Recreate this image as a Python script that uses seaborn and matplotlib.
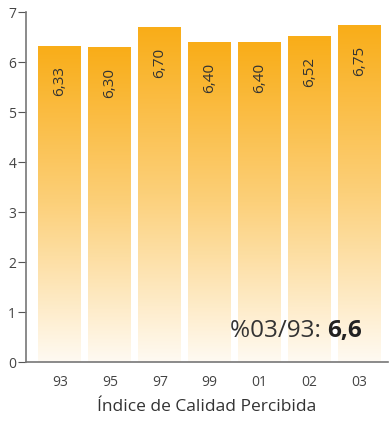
import numpy as np
import matplotlib
matplotlib.use("Agg")
import matplotlib.pyplot as plt
import seaborn as sns
import pandas as pd
from matplotlib.colors import LinearSegmentedColormap

years = ["93", "95", "97", "99", "01", "02", "03"]
values = [6.33, 6.30, 6.70, 6.40, 6.40, 6.52, 6.75]
labels = ["6,33", "6,30", "6,70", "6,40", "6,40", "6,52", "6,75"]
y_ticks = [0, 1, 2, 3, 4, 5, 6, 7]

sns.set_style("white")
plt.rcParams["font.family"] = ["Open Sans", "DejaVu Sans"]

df = pd.DataFrame({"year": years, "value": values})

fig = plt.figure(figsize=(3.9, 4.21), dpi=100)
ax = fig.add_axes([26 / 390, 59 / 421, 362 / 390, 350 / 421])

sns.barplot(data=df, x="year", y="value", ax=ax, width=0.86, color="#f9ae1a")

# degradado dentro de cada barra
cmap = LinearSegmentedColormap.from_list("g", ["#fffaf2", "#fcd07a", "#f9ad18"])
grad = np.linspace(0, 1, 256).reshape(-1, 1)
for bar in ax.patches:
    x0, w, h = bar.get_x(), bar.get_width(), bar.get_height()
    im = ax.imshow(grad, cmap=cmap, aspect="auto", origin="lower",
                   extent=[x0, x0 + w, 0, h], zorder=2)
    im.set_clip_path(bar)
    bar.set_facecolor("none")
    bar.set_edgecolor("none")

for i, (v, lab) in enumerate(zip(values, labels)):
    ax.text(i, v - 0.42, lab, rotation=90, ha="center", va="top",
            fontsize=11, color="#333333", zorder=3)

ax.set_xlim(-0.68, 6.57)
ax.set_ylim(0, 7)
ax.set_yticks(y_ticks)
ax.set_yticklabels([str(t) for t in y_ticks])
ax.set_xlabel("Índice de Calidad Percibida", fontsize=12.5, color="#333333", labelpad=6)
ax.set_ylabel("")

for s in ["top", "right"]:
    ax.spines[s].set_visible(False)
ax.spines["left"].set_color("#777777")
ax.spines["bottom"].set_color("#777777")
ax.spines["left"].set_linewidth(1.2)
ax.spines["bottom"].set_linewidth(1.2)
ax.tick_params(axis="y", left=True, length=6, color="#555555", labelsize=10,
               labelcolor="#444444", pad=1)
ax.tick_params(axis="x", bottom=False, labelsize=10, labelcolor="#444444", pad=6)

t1 = ax.text(0.563, 0.089, "%03/93: ", transform=ax.transAxes, fontsize=17.5,
             color="#333333", ha="left", va="center")
ax.annotate("6,6", xycoords=t1, xy=(1, 0.5), va="center", ha="left",
            fontsize=17.5, fontweight="bold", color="#222222")

fig.savefig("out.png", dpi=100)
